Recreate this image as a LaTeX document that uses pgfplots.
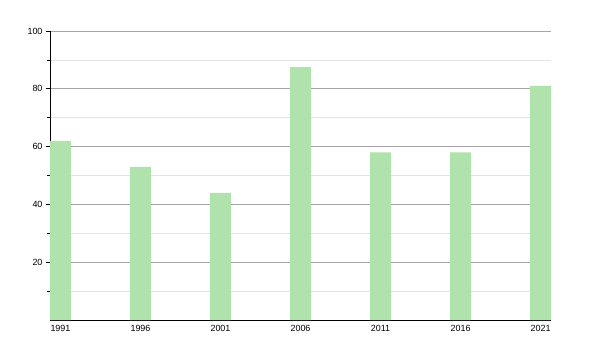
\documentclass[border=0pt]{standalone}
\usepackage{fontspec}
\setmainfont{Liberation Sans}
\usepackage{pgfplots}
\pgfplotsset{compat=1.18}
\definecolor{barc}{RGB}{176,226,172}
\begin{document}
\begin{tikzpicture}
\path[use as bounding box] (-50bp,-30bp) rectangle (550bp,320bp);
\begin{axis}[at={(0,0)}, anchor=south west, scale only axis,
  width=501bp, height=289bp,
  xmin=-0.131, xmax=6.131, ymin=0, ymax=100,
  xtick={0,1,2,3,4,5,6},
  xticklabels={1991,1996,2001,2006,2011,2016,2021},
  ytick={20,40,60,80,100}, minor ytick={10,30,50,70,90},
  ymajorgrids, yminorgrids,
  major grid style={color=black!35, line width=0.6pt},
  minor grid style={color=black!11, line width=0.6pt},
  axis lines=left, axis line style={-, black, line width=0.8pt},
  xtick style={draw=none},
  ytick style={black, line width=0.6pt},
  tick align=outside,
  major tick length=4bp, minor tick length=3bp,
  tick label style={font=\fontsize{9}{10}\selectfont},
  /pgf/number format/assume math mode=true,
  xticklabel style={yshift=2bp},
  ybar, bar width=21bp,
  clip=false]
\addplot[fill=barc, draw=none] coordinates {(0,62) (1,53) (2,44) (3,87.5) (4,58) (5,58) (6,81)};
\end{axis}
\end{tikzpicture}
\end{document}
